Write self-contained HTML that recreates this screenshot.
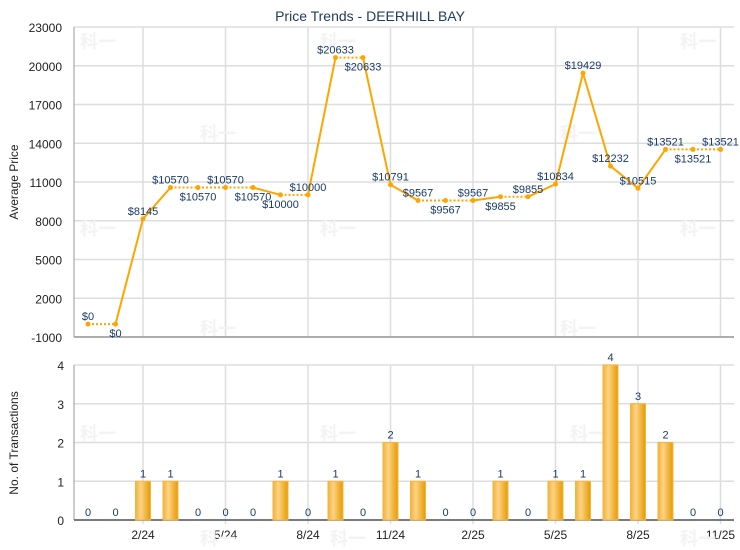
<!DOCTYPE html>
<html><head><meta charset="utf-8"><style>
html,body{margin:0;padding:0;background:#fff;}
svg{display:block;font-family:"Liberation Sans",Arial,sans-serif;}
</style></head><body>
<svg id="c" width="740" height="550" xmlns="http://www.w3.org/2000/svg">
<defs>
<linearGradient id="bg" x1="0" x2="1" y1="0" y2="0">
<stop offset="0" stop-color="#f2b23a"/><stop offset="0.35" stop-color="#fdd385"/><stop offset="1" stop-color="#e69a00"/>
</linearGradient>
</defs>
<text x="370" y="21" text-anchor="middle" font-size="14" fill="#1f3b63">Price Trends - DEERHILL BAY</text>
<g id="g"></g>
</svg>
<script>
var g=document.getElementById('g'),s='';
var L=74,R=734,T=27,B=337,T2=365,B2=520;
function yp(v){return B-(v+1000)*(B-T)/24000;}
function yb(v){return B2-v*(B2-T2)/4;}
function xi(i){return 88+27.5*i;}
var vals=[0,0,8145,10570,10570,10570,10570,10000,10000,20633,20633,10791,9567,9567,9567,9855,9855,10834,19429,12232,10515,13521,13521,13521];
var cnt=[0,0,1,1,0,0,0,1,0,1,0,2,1,0,0,1,0,1,1,4,3,2,0,0];
var ups=[1,0,1,1,0,1,0,0,1,1,0,1,1,0,1,0,1,1,1,1,1,1,0,1];
[-1000,2000,5000,8000,11000,14000,17000,20000,23000].forEach(function(v){var y=yp(v);
s+='<line x1="'+L+'" x2="'+R+'" y1="'+y+'" y2="'+y+'" stroke="#dddddd" stroke-width="1.5"/>';
s+='<text x="62" y="'+(y+5)+'" text-anchor="end" font-size="12" fill="#222">'+v+'</text>';});
[0,1,2,3,4].forEach(function(v){var y=yb(v);
s+='<line x1="'+L+'" x2="'+R+'" y1="'+y+'" y2="'+y+'" stroke="#dddddd" stroke-width="1.5"/>';
s+='<text x="64" y="'+(y+5)+'" text-anchor="end" font-size="12" fill="#222">'+v+'</text>';});
var lab=['2/24','5/24','8/24','11/24','2/25','5/25','8/25','11/25'];
for(var k=0;k<8;k++){var x=xi(2+3*k);
s+='<line x1="'+x+'" x2="'+x+'" y1="'+T+'" y2="'+B+'" stroke="#dddddd" stroke-width="1.5"/>';
s+='<line x1="'+x+'" x2="'+x+'" y1="'+T2+'" y2="'+(B2+4)+'" stroke="#dddddd" stroke-width="1.5"/>';
s+='<text x="'+x+'" y="539" text-anchor="middle" font-size="12" fill="#222">'+lab[k]+'</text>';}
[[80,48],[200,140],[320,48],[80,235],[320,235],[200,335],[560,140],[680,48],[680,235],[560,335],[80,440],[320,440],[200,545],[570,440],[330,545],[680,545]].forEach(function(p){
s+='<text x="'+p[0]+'" y="'+p[1]+'" font-size="18" font-weight="bold" fill="#f3f3f3" font-family="Noto Sans CJK SC,sans-serif">科一</text>';});
s+='<line x1="'+L+'" x2="'+L+'" y1="'+T+'" y2="'+B+'" stroke="#999" stroke-width="1"/>';
s+='<line x1="'+L+'" x2="'+R+'" y1="'+B+'" y2="'+B+'" stroke="#999" stroke-width="1.5"/>';
s+='<line x1="'+L+'" x2="'+L+'" y1="'+T2+'" y2="'+B2+'" stroke="#999" stroke-width="1"/>';
s+='<line x1="'+L+'" x2="'+R+'" y1="'+B2+'" y2="'+B2+'" stroke="#555" stroke-width="1.5"/>';
s+='<text transform="translate(18,182) rotate(-90)" text-anchor="middle" font-size="12" fill="#222">Average Price</text>';
s+='<text transform="translate(18,443) rotate(-90)" text-anchor="middle" font-size="12" fill="#222">No. of Transactions</text>';
for(var i=0;i<23;i++){var d=cnt[i+1]==0;
s+='<line x1="'+xi(i)+'" y1="'+yp(vals[i])+'" x2="'+xi(i+1)+'" y2="'+yp(vals[i+1])+'" stroke="#ffa500" stroke-width="2"'+(d?' stroke-dasharray="2,2"':'')+'/>';}
for(var i=0;i<24;i++){var x=xi(i),y=yp(vals[i]);
s+='<circle cx="'+x+'" cy="'+y+'" r="2.5" fill="#ffa500"/>';
var up=ups[i];
s+='<text x="'+x+'" y="'+(up?y-4:y+13)+'" text-anchor="middle" font-size="11" fill="#1a3a6a">$'+vals[i]+'</text>';}
for(var i=0;i<24;i++){var x=xi(i),c=cnt[i];
if(c>0){var y=yb(c);s+='<rect x="'+(x-7.5)+'" y="'+y+'" width="15" height="'+(B2-y)+'" fill="url(#bg)" stroke="#f5b53a" stroke-width="1"/>';}
s+='<text x="'+x+'" y="'+(yb(c)-4)+'" text-anchor="middle" font-size="11" fill="#1a3a6a">'+c+'</text>';}
g.innerHTML=s;
</script>
</body></html>
